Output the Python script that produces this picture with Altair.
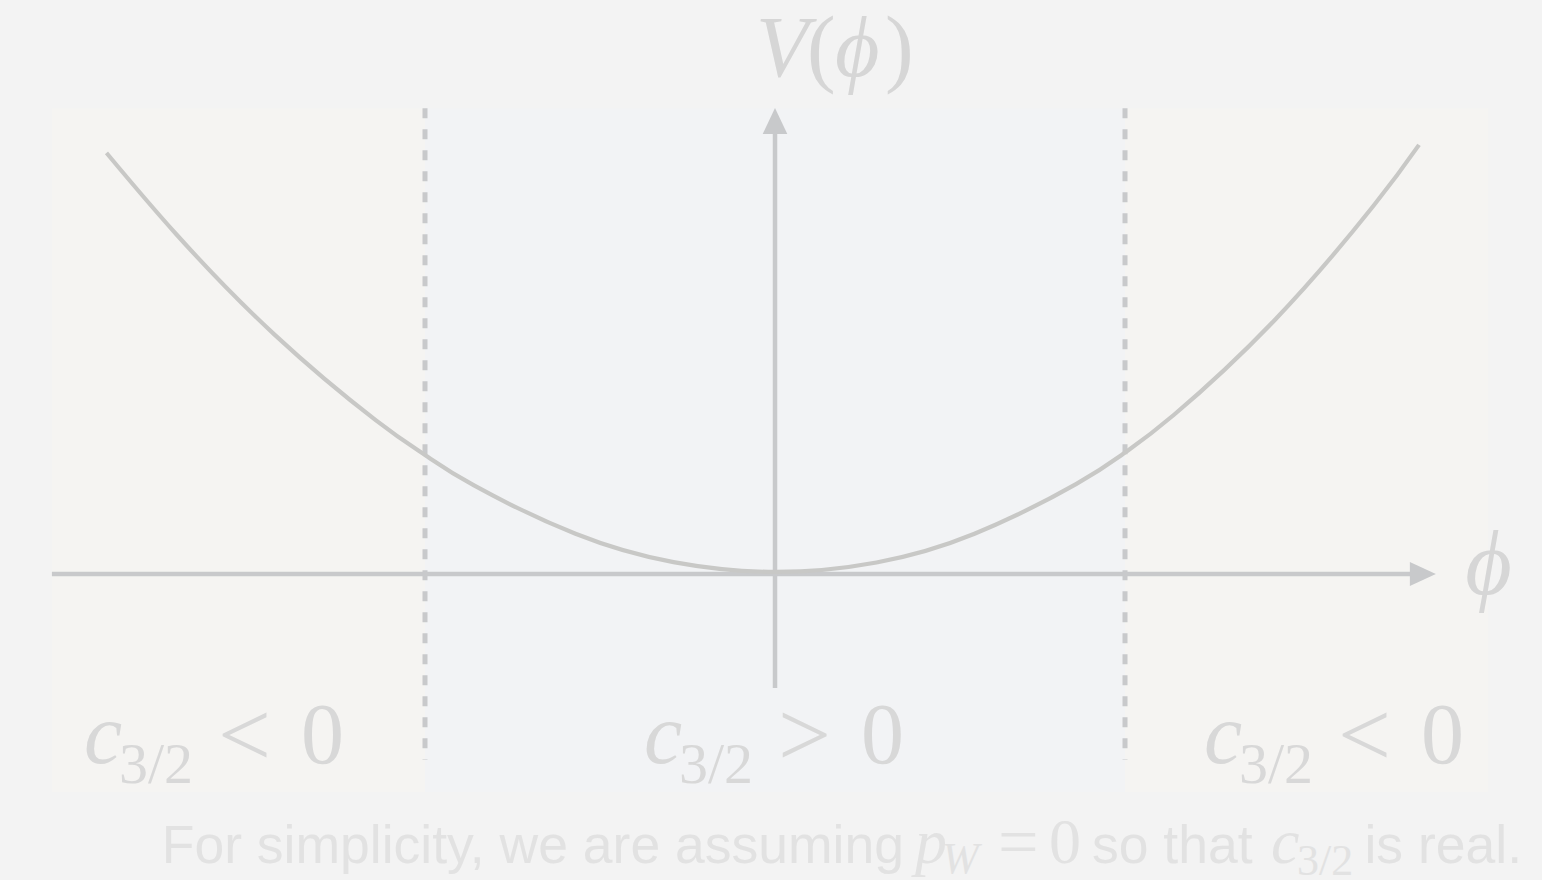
import altair as alt
import pandas as pd

# ---- data -------------------------------------------------------------
# potential V(phi) sampled along the well
phi_vals = [-1.91, -1.71, -1.43, -1.14, -1.0, -0.86, -0.57, -0.29, 0.0,
            0.29, 0.57, 0.86, 1.0, 1.14, 1.43, 1.71, 1.84]
v_vals = [1.203, 0.970, 0.684, 0.439, 0.340, 0.253, 0.115, 0.034, 0.006,
          0.033, 0.115, 0.257, 0.347, 0.455, 0.728, 1.052, 1.226]

# where c_{3/2} changes sign
boundary_phi = [-1.0, 1.0]

# shaded regions
region_start = [-2.066, -1.0, 1.0]
region_end = [-1.0, 1.0, 2.037]
region_kind = ["neg", "pos", "neg"]

# region labels  c_{3/2} </> 0
label_phi = [-1.6, 0.0, 1.6]
label_rel = ["<", ">", "<"]

# ---- scales -----------------------------------------------------------
XS = alt.Scale(domain=[-2.2143, 2.1914], nice=False, zero=False)
YS = alt.Scale(domain=[-0.8743, 1.64], nice=False, zero=False)

SERIF = "Liberation Serif, DejaVu Serif, serif"
SANS = "Liberation Sans, Arial, sans-serif"
LABEL_COL = "#d8d8d8"
NOTE_COL = "#e2e2e2"
AXIS_COL = "#c8c9cb"
CURVE_COL = "#c8c8c6"

Y_TOP, Y_BOT = 1.331, -0.623   # vertical extent of the shaded panel
DASH_BOT = -0.531


def X(field):
    return alt.X(field, type="quantitative", scale=XS, axis=None)


def Y(field):
    return alt.Y(field, type="quantitative", scale=YS, axis=None)


regions = pd.DataFrame({"x0": region_start, "x1": region_end,
                        "kind": region_kind, "y0": Y_TOP, "y1": Y_BOT})
panel = alt.Chart(regions).mark_rect(strokeWidth=0).encode(
    x=X("x0"), x2="x1", y=Y("y0"), y2="y1",
    color=alt.Color("kind:N", legend=None,
                    scale=alt.Scale(domain=["neg", "pos"],
                                    range=["#f5f4f2", "#f2f3f5"])),
)

bounds = pd.DataFrame({"phi": boundary_phi, "top": Y_TOP, "bot": DASH_BOT})
dashed = alt.Chart(bounds).mark_rule(
    color="#c8c9cb", strokeWidth=5, strokeDash=[10, 11]
).encode(x=X("phi"), y=Y("top"), y2="bot")

# coordinate axes drawn as arrows
h_axis = pd.DataFrame({"a": [-2.066], "b": [1.823], "v": [0.0]})
x_line = alt.Chart(h_axis).mark_rule(color=AXIS_COL, strokeWidth=4.3).encode(
    x=X("a"), x2="b", y=Y("v"))
v_axis = pd.DataFrame({"p": [0.0], "a": [-0.326], "b": [1.26]})
y_line = alt.Chart(v_axis).mark_rule(color=AXIS_COL, strokeWidth=4.5).encode(
    x=X("p"), y=Y("a"), y2="b")

x_head = alt.Chart(pd.DataFrame({"p": [1.851], "v": [0.0]})).mark_point(
    shape="M-1,-0.923L1,0L-1,0.923Z", size=676, filled=True,
    color=AXIS_COL, opacity=1).encode(x=X("p"), y=Y("v"))
y_head = alt.Chart(pd.DataFrame({"p": [0.0], "v": [1.294]})).mark_point(
    shape="M0,-1L0.946,1L-0.946,1Z", size=676, filled=True,
    color=AXIS_COL, opacity=1).encode(x=X("p"), y=Y("v"))

curve_df = pd.DataFrame({"phi": phi_vals, "V": v_vals})
curve = alt.Chart(curve_df).mark_line(
    color=CURVE_COL, strokeWidth=4.2, interpolate="natural"
).encode(x=X("phi"), y=Y("V"), order="phi:Q")

# ---- text -------------------------------------------------------------
lab = pd.DataFrame({"phi": label_phi, "V": -0.54, "rel": label_rel,
                    "c": "c", "sub": "3/2", "zero": "0"})


def lab_part(field, dx, dy=0, size=86, style="normal"):
    return alt.Chart(lab).mark_text(
        font=SERIF, fontSize=size, fontStyle=style, color=LABEL_COL,
        align="left", baseline="alphabetic", dx=dx, dy=dy
    ).encode(x=X("phi"), y=Y("V"), text=f"{field}:N")


labels = [
    lab_part("c", -131, style="italic"),
    lab_part("sub", -96, dy=20, size=58),
    lab_part("rel", 3, dy=3, size=94),
    lab_part("zero", 86),
]

# axis titles V(phi) and phi
vt = pd.DataFrame({"p": [0.0], "v": [1.423], "V": ["V"], "lp": ["("],
                   "ph": ["\u03d5"], "rp": [")"]})


def vt_part(field, dx, style):
    return alt.Chart(vt).mark_text(
        font=SERIF, fontSize=86, fontStyle=style, color="#d6d6d6",
        align="left", baseline="alphabetic", dx=dx
    ).encode(x=X("p"), y=Y("v"), text=f"{field}:N")


v_title = [vt_part("V", -19, "italic"), vt_part("lp", 32, "normal"),
           vt_part("ph", 60, "italic"), vt_part("rp", 110, "normal")]

phi_title = alt.Chart(pd.DataFrame({"p": [1.889], "v": [0.0], "t": ["\u03d5"]})).mark_text(
    font=SERIF, fontSize=90, fontStyle="italic", color="#d6d6d6",
    align="left", baseline="alphabetic", dx=29, dy=20
).encode(x=X("p"), y=Y("v"), text="t:N")


# caption along the bottom, mixing prose and math
def note(txt, px, py, font, size, style="normal", align="left"):
    return alt.Chart(pd.DataFrame({"t": [txt]})).mark_text(
        font=font, fontSize=size, fontStyle=style, color=NOTE_COL,
        align=align, baseline="alphabetic"
    ).encode(x=alt.value(px), y=alt.value(py), text="t:N")


caption = [
    note("For simplicity, we are assuming", 904, 863, SANS, 53.5, align="right"),
    note("p", 915, 863, SERIF, 64, "italic"),
    note("W", 942, 873, SERIF, 44, "italic"),
    note("=", 998, 866, SERIF, 72),
    note("0", 1049, 863, SERIF, 64),
    note("so that", 1092, 863, SANS, 53.5),
    note("c", 1271, 863, SERIF, 64, "italic"),
    note("3/2", 1297, 875, SERIF, 44),
    note("is real.", 1522, 863, SANS, 53.5, align="right"),
]

chart = alt.layer(
    panel, dashed, x_line, y_line, x_head, y_head, curve,
    *labels, *v_title, phi_title, *caption
).properties(
    width=1542, height=880, padding=0, autosize=alt.AutoSizeParams(type="none"),
    background="#f3f3f3"
).configure_view(stroke=None)

chart.save("out.html", embed_options={"renderer": "svg", "actions": False})
